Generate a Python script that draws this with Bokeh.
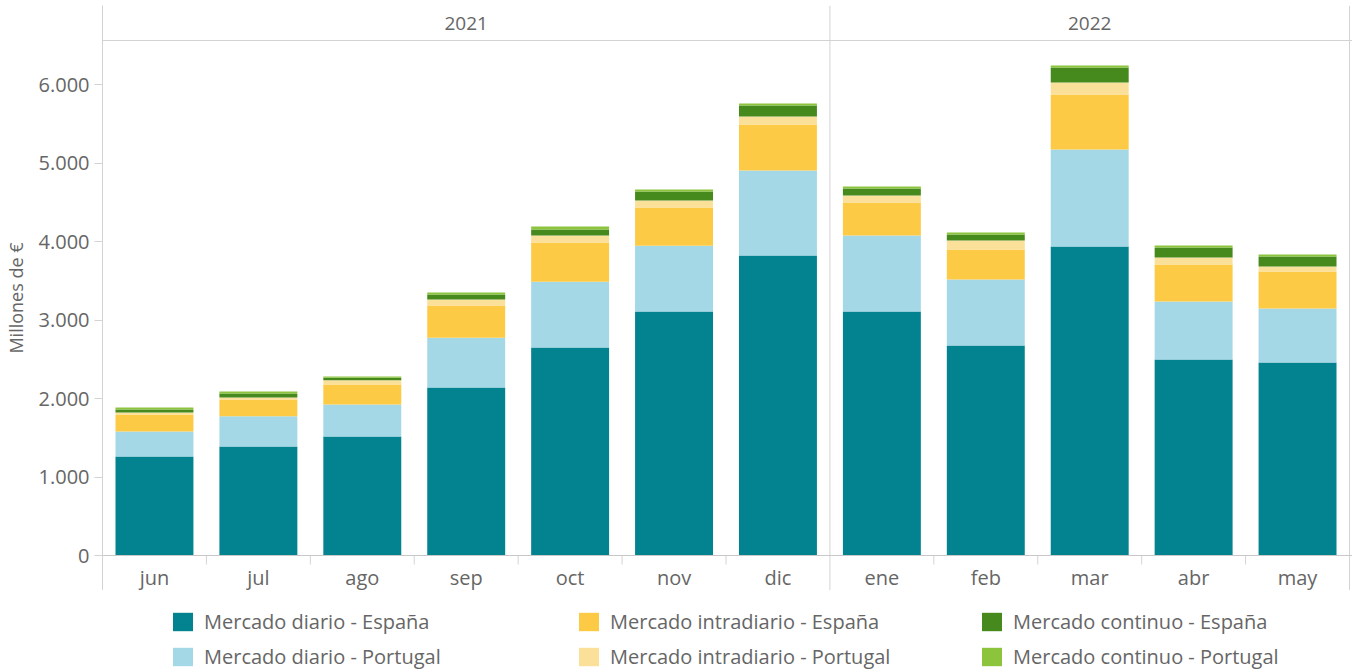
from bokeh.plotting import figure
from bokeh.layouts import column
from bokeh.models import Range1d, FixedTicker, Span, Legend, LegendItem, ColumnDataSource
from bokeh.embed import file_html
from bokeh.resources import INLINE
from bokeh.core.properties import value

# ---------------- data ----------------
months = ["jun", "jul", "ago", "sep", "oct", "nov", "dic", "ene", "feb", "mar", "abr", "may"]
years = ["2021", "2022"]
months_per_year = [7, 5]

diario_es = [1261, 1389, 1516, 2140, 2650, 3108, 3822, 3108, 2675, 3936, 2497, 2459]
diario_pt = [319, 386, 408, 633, 837, 837, 1082, 968, 841, 1236, 739, 687]
intra_es = [216, 212, 255, 412, 500, 488, 586, 421, 382, 701, 471, 472]
intra_pt = [26, 26, 55, 76, 89, 89, 102, 89, 115, 152, 89, 64]
cont_es = [38, 50, 30, 64, 77, 115, 140, 89, 76, 192, 128, 127]
cont_pt = [25, 26, 17, 25, 38, 25, 26, 26, 26, 25, 25, 25]

series_names = ["Mercado diario - España", "Mercado diario - Portugal",
                "Mercado intradiario - España", "Mercado intradiario - Portugal",
                "Mercado continuo - España", "Mercado continuo - Portugal"]
series_values = [diario_es, diario_pt, intra_es, intra_pt, cont_es, cont_pt]
colors = ["#02838F", "#A5D8E6", "#FCCA45", "#FBE09A", "#46891C", "#8CC43E"]

y_ticks = [0, 1000, 2000, 3000, 4000, 5000, 6000]
y_tick_labels = ["0", "1.000", "2.000", "3.000", "4.000", "5.000", "6.000"]
y_title = "Millones de €"

# ---------------- layout constants ----------------
FONT = "Open Sans"
TXT = "#666666"
LINE = "#d3d3d3"
W = 1352
TOP = 5            # frame top (px)
ZERO = 555         # px of y = 0
BOTTOM = 590       # frame bottom (px)
LEFT = 101         # frame left (px)
H1 = BOTTOM
H2 = 670 - BOTTOM
PPU = 78.5 / 1000.0
y_top = (ZERO - TOP) / PPU
y_bot = -(BOTTOM - ZERO) / PPU
n = len(months)
slot = (W - 3 - LEFT) / n
x_end = (W - LEFT) / slot

def yval(px):
    return (ZERO - px) / PPU

p = figure(width=W, height=H1, output_backend="svg", toolbar_location=None,
           x_range=Range1d(0, x_end), y_range=Range1d(y_bot, y_top),
           x_axis_location=None, min_border_left=LEFT, min_border_right=0,
           min_border_top=TOP, min_border_bottom=0)
p.outline_line_color = None
p.xgrid.visible = False
p.ygrid.visible = False

# y axis
ax = p.yaxis[0]
ax.ticker = FixedTicker(ticks=y_ticks)
ax.major_label_overrides = dict(zip(y_ticks, y_tick_labels))
ax.minor_tick_line_color = None
ax.major_tick_in = 0
ax.major_tick_out = 8
ax.major_tick_line_color = LINE
ax.axis_line_color = LINE
ax.major_label_standoff = 5
ax.major_label_text_font = FONT
ax.major_label_text_font_size = "20px"
ax.major_label_text_color = TXT
ax.axis_label = y_title
ax.axis_label_text_font = FONT
ax.axis_label_text_font_size = "18px"
ax.axis_label_text_font_style = "normal"
ax.axis_label_text_color = TXT
ax.axis_label_standoff = 8

# stacked bars
data = {"x": [i + 0.5 for i in range(n)]}
keys = []
for k, vals in enumerate(series_values):
    key = "s%d" % k
    data[key] = vals
    keys.append(key)
src = ColumnDataSource(data)
p.vbar_stack(keys, x="x", width=0.75, source=src, color=colors, line_width=0)

# frame lines
p.add_layout(Span(location=0, dimension="width", line_color="#c8c8c8", line_width=1))
p.add_layout(Span(location=yval(40), dimension="width", line_color=LINE, line_width=1))

bounds = []
acc = 0
for c in months_per_year:
    acc += c
    bounds.append(acc)
p.segment(x0=bounds, x1=bounds, y0=[y_bot] * len(bounds), y1=[y_top] * len(bounds),
          line_color=LINE, line_width=1)
inner = [i for i in range(1, n) if i not in bounds]
p.segment(x0=inner, x1=inner, y0=[0] * len(inner), y1=[yval(564)] * len(inner),
          line_color=LINE, line_width=1)

# month labels
p.text(x=data["x"], y=[yval(577)] * n, text=months, text_align="center", text_baseline="middle",
       text_font=value(FONT), text_font_size="20px", text_color=TXT)

# year labels
starts = [0] + bounds[:-1]
year_x = [(s + e) / 2 for s, e in zip(starts, bounds)]
p.text(x=year_x, y=[yval(23)] * len(years), text=years, text_align="center", text_baseline="middle",
       text_font=value(FONT), text_font_size="19px", text_color=TXT)

# ---------------- legend strip ----------------
q = figure(width=W, height=H2, output_backend="svg", toolbar_location=None,
           x_range=Range1d(0, 1), y_range=Range1d(0, 1),
           x_axis_location=None, y_axis_location=None,
           min_border_left=LEFT, min_border_right=0, min_border_top=0, min_border_bottom=0)
q.outline_line_color = None
q.xgrid.visible = False
q.ygrid.visible = False

# swatch renderers for the legend (kept outside the visible range)
swatch_src = ColumnDataSource(dict(x=[5.0], top=[1.0]))
swatches = [q.vbar(x="x", top="top", width=0.1, source=swatch_src, color=c, line_width=0) for c in colors]

col_x = [169, 575, 978]
for c in range(3):
    items = [LegendItem(label=series_names[2 * c + r], renderers=[swatches[2 * c + r]]) for r in range(2)]
    lg = Legend(items=items, location=(col_x[c] - LEFT, 0), orientation="vertical",
                padding=0, margin=0, spacing=8, label_standoff=9,
                glyph_width=25, glyph_height=23, label_height=23,
                label_text_font=FONT, label_text_font_size="20px", label_text_color=TXT,
                border_line_color=None, background_fill_alpha=0)
    q.add_layout(lg, "center")

layout = column(p, q, spacing=0)
open("out.html", "w").write(file_html(layout, INLINE))
